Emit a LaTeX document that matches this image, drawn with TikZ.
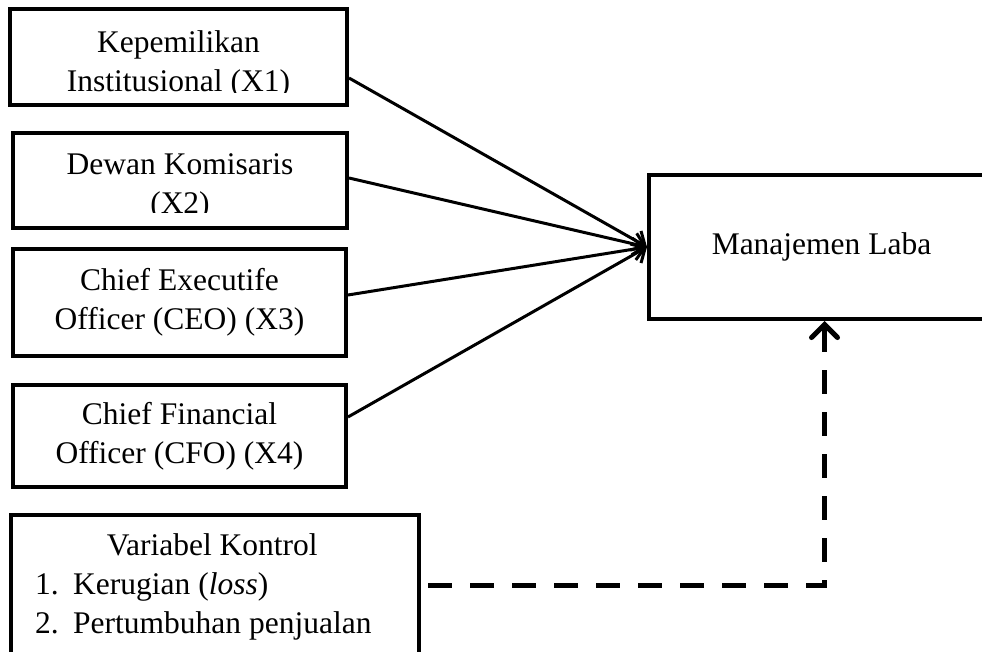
\documentclass[tikz,border=0pt]{standalone}
\usepackage{fontspec}
\setmainfont{Liberation Serif}
\usetikzlibrary{arrows.meta}

\tikzset{
  kotak/.style={draw, line width=4pt, inner sep=0pt},
  teks/.style={font=\fontsize{31.5}{39}\selectfont, align=center, inner sep=0pt},
  panah/.style={line width=3pt, -{Straight Barb[length=11pt,width=22pt]}},
  kontrolpanah/.style={line width=5pt, dash pattern=on 24pt off 18pt,
    -{Straight Barb[length=13pt,width=26pt,line cap=round]}},
}

\begin{document}
\begin{tikzpicture}[x=1pt, y=-1pt]
  \clip (0,0) rectangle (982,652);

  % ---- variabel independen (X1--X4) ----
  \node[kotak, minimum width=337pt, minimum height=96pt] (x1) at (178.5,57) {};
  \begin{scope}
    \clip (12,11) rectangle (345,93);
    \node[teks] (x1teks) at (178.5,64.5) {Kepemilikan\\Institusional (X1)};
  \end{scope}

  \node[kotak, minimum width=334pt, minimum height=95pt] (x2) at (180,180.5) {};
  \begin{scope}
    \clip (15,135) rectangle (345,213);
    \node[teks] (x2teks) at (180,186.5) {Dewan Komisaris\\(X2)};
  \end{scope}

  \node[kotak, teks, minimum width=333pt, minimum height=107pt] (x3) at (179.5,302.5)
    {Chief Executife\\Officer (CEO) (X3)};
  \node[kotak, teks, minimum width=333pt, minimum height=102pt] (x4) at (179.5,436)
    {Chief Financial\\Officer (CFO) (X4)};

  % ---- variabel kontrol (box runs past the lower edge) ----
  \node[kotak, minimum width=408pt, minimum height=165pt] (kontrol) at (215,597.5) {};
  \node[teks, align=left, anchor=north west] (kontrolteks) at (35,533.5)
    {\makebox[354pt]{Variabel Kontrol}\\
     \makebox[38pt][l]{1.}Kerugian (\textit{loss})\\
     \makebox[38pt][l]{2.}Pertumbuhan penjualan};

  % ---- variabel dependen (box runs past the right edge) ----
  \node[kotak, teks, minimum width=351pt, minimum height=144pt] (laba) at (824.5,247)
    {\raisebox{-5pt}{Manajemen Laba}\hspace*{6pt}};

  % ---- hubungan ----
  \draw[panah] ([yshift=-21pt]x1.east) -- (laba.west);
  \draw[panah] ([yshift=2.5pt]x2.east) -- (laba.west);
  \draw[panah] ([yshift=7.5pt]x3.east) -- (laba.west);
  \draw[panah] ([yshift=19pt]x4.east) -- (laba.west);
  \draw[kontrolpanah] ([xshift=7pt, yshift=12.5pt]kontrol.east) -| (laba.south);

\end{tikzpicture}
\end{document}
